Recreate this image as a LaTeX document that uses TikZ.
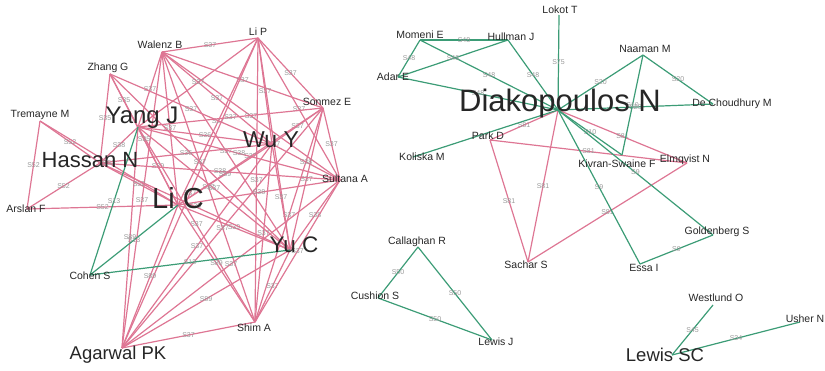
\documentclass[tikz,border=0pt]{standalone}
\usepackage{fontspec}
\setmainfont{Liberation Sans}
\usetikzlibrary{calc}
\definecolor{coauth}{RGB}{222,118,148}
\definecolor{coauthgreen}{RGB}{60,156,118}
\newcommand\authsize[1]{\fontsize{#1}{#1}\selectfont}

\begin{document}
\begin{tikzpicture}[x=1pt,y=-1pt,
    pinkline/.style={coauth, line width=1.2pt},
    greenline/.style={coauthgreen, line width=1.2pt},
    elbl/.style={inner sep=0pt, text=black!40, font=\authsize{7}},
    au/.style={inner sep=0pt, text=black!85, font=\authsize{10.5}}]
\useasboundingbox (0,0) rectangle (825,370);

    % vertices, left cluster
    \coordinate (wal) at (162,52);
    \coordinate (zha) at (110,74);
    \coordinate (tre) at (40,121);
    \coordinate (yan) at (138,127);
    \coordinate (has) at (100,163);
    \coordinate (lic) at (178,205);
    \coordinate (ars) at (27,209);
    \coordinate (coh) at (90,275);
    \coordinate (aga) at (122,348);
    \coordinate (shi) at (255,322);
    \coordinate (yuc) at (290,250);
    \coordinate (sul) at (340,180);
    \coordinate (wuy) at (272,144);
    \coordinate (son) at (323,108);
    \coordinate (lip) at (258,38);

    % vertices, right side
    \coordinate (dia) at (558,110);
    \coordinate (lok) at (559,15);
    \coordinate (mom) at (420,40);
    \coordinate (hul) at (508,40);
    \coordinate (ada) at (398,77);
    \coordinate (naa) at (643,55);
    \coordinate (dec) at (713,104);
    \coordinate (par) at (490,140);
    \coordinate (kol) at (413,157);
    \coordinate (kiv) at (622,155);
    \coordinate (elm) at (687,163);
    \coordinate (gol) at (713,235);
    \coordinate (ess) at (640,264);
    \coordinate (sac) at (528,262);
    \coordinate (cal) at (418,247);
    \coordinate (cus) at (378,298);
    \coordinate (lej) at (492,340);
    \coordinate (wes) at (713,305);
    \coordinate (ush) at (800,322);
    \coordinate (lsc) at (672,355);

    % pink ties
    \foreach \a/\b/\s in {wal/lip/S37, wal/son/S37, wal/wuy/S37, wal/yan/S37,
        wal/lic/S37, wal/yuc/S37, wal/sul/S37, wal/shi/S37, wal/aga/S37,
        lip/son/S37, lip/wuy/S37, lip/yan/S37, lip/lic/S37, lip/yuc/S37,
        lip/sul/S37, lip/shi/S37, lip/aga/S37,
        son/wuy/S37, son/yan/S37, son/lic/S37, son/yuc/S37, son/sul/S37,
        son/shi/S37, son/aga/S37,
        wuy/yan/S36, wuy/lic/S39, wuy/yuc/S37, wuy/sul/S38, wuy/shi/S37, wuy/aga/S37,
        yan/lic/S39, yan/yuc/S37, yan/sul/S38, yan/shi/S37, yan/aga/S89,
        lic/yuc/S39, lic/sul/S38, lic/shi/S89, lic/aga/S89,
        yuc/sul/S38, yuc/shi/S37, yuc/aga/S89,
        sul/shi/S37, sul/aga/S37, shi/aga/S37,
        zha/yan/S35, zha/has/S35, zha/wuy/S37, zha/lic/S35, zha/yuc/S37,
        has/yan/S38, has/wuy/S36, has/sul/S38, has/yuc/S39, has/lic/S52,
        tre/ars/S52, tre/has/S52, tre/lic/S52, ars/has/S52, ars/lic/S52,
        par/dia/S81, par/elm/S81, par/sac/S81, dia/elm/S81, dia/sac/S81, sac/elm/S81}
        \draw[pinkline] (\a) -- node[elbl] {\s} (\b);

    % green ties
    \foreach \a/\b/\s in {coh/yan/S13, coh/lic/S13, coh/yuc/S13,
        lok/dia/S75, mom/hul/S48, mom/ada/S48, mom/dia/S48, hul/ada/S48,
        hul/dia/S48, ada/dia/S48, dia/naa/S20, naa/dec/S20, dia/dec/S20,
        naa/kiv/S10, dia/kiv/S10, dia/ess/S9, dia/gol/S9, ess/gol/S9,
        cal/cus/S50, cal/lej/S50, cus/lej/S50, lsc/wes/S45, lsc/ush/S34}
        \draw[greenline] (\a) -- node[elbl] {\s} (\b);
    \draw[greenline] (kol) -- (dia);

    % names
    \node[au] (walL) at (160,45) {Walenz B};
    \node[au] (zhaL) at (108,68) {Zhang G};
    \node[au] (treL) at (40,115) {Tremayne M};
    \node[au, font=\authsize{24}] (yanL) at (142,118) {Yang J};
    \node[au, font=\authsize{22}] (hasL) at (90,160) {Hassan N};
    \node[au, font=\authsize{29}] (licL) at (178,198) {Li C};
    \node[au] (arsL) at (26,209) {Arslan F};
    \node[au] (cohL) at (90,276) {Cohen S};
    \node[au, font=\authsize{18.5}] (agaL) at (118,355) {Agarwal PK};
    \node[au] (shiL) at (254,328) {Shim A};
    \node[au, font=\authsize{22.5}] (yucL) at (294,245) {Yu C};
    \node[au] (sulL) at (345,179) {Sultana A};
    \node[au, font=\authsize{23}] (wuyL) at (271,140) {Wu Y};
    \node[au] (sonL) at (327,102) {Sonmez E};
    \node[au] (lipL) at (258,32) {Li P};

    \node[au, font=\authsize{31}] (diaL) at (560,103) {Diakopoulos N};
    \node[au] (lokL) at (560,10) {Lokot T};
    \node[au] (momL) at (420,35) {Momeni E};
    \node[au] (hulL) at (511,37) {Hullman J};
    \node[au] (adaL) at (393,77) {Adar E};
    \node[au] (naaL) at (645,49) {Naaman M};
    \node[au] (decL) at (732,104) {De Choudhury M};
    \node[au] (parL) at (488,136) {Park D};
    \node[au] (kolL) at (422,157) {Koliska M};
    \node[au] (kivL) at (617,164) {Kivran-Swaine F};
    \node[au] (elmL) at (685,160) {Elmqvist N};
    \node[au] (golL) at (717,232) {Goldenberg S};
    \node[au] (essL) at (644,268) {Essa I};
    \node[au] (sacL) at (526,265) {Sachar S};
    \node[au] (calL) at (417,242) {Callaghan R};
    \node[au] (cusL) at (375,296) {Cushion S};
    \node[au] (lejL) at (496,342) {Lewis J};
    \node[au] (wesL) at (716,298) {Westlund O};
    \node[au] (ushL) at (805,319) {Usher N};
    \node[au, font=\authsize{18.5}] (lscL) at (665,355) {Lewis SC};
\end{tikzpicture}
\end{document}
